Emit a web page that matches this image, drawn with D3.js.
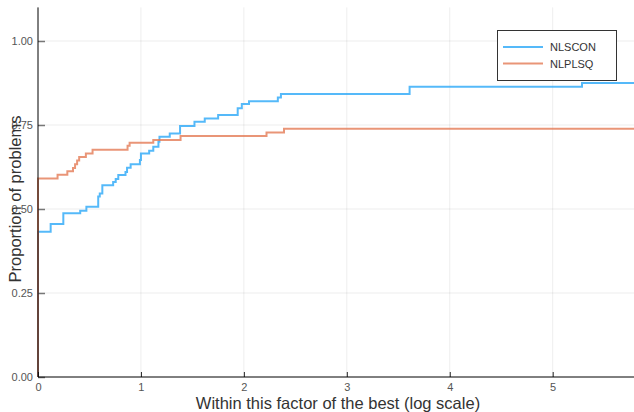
<!DOCTYPE html>
<html>
<head>
<meta charset="utf-8">
<script src="https://cdn.jsdelivr.net/npm/d3@7/dist/d3.min.js"></script>
<style>
  html, body { margin: 0; padding: 0; background: #fff; }
  svg { display: block; font-family: "Liberation Sans", "DejaVu Sans", sans-serif; }
</style>
</head>
<body>
<svg id="chart" width="634" height="412"></svg>
<script>
// Series names
const seriesNames = ["NLSCON", "NLPLSQ"];
// Step points: x (log factor) where proportion changes, and new proportion
const nlsconX = [0, 0, 0.123, 0.246, 0.41, 0.47, 0.585, 0.60, 0.625, 0.73, 0.755, 0.78, 0.85, 0.865, 0.90, 0.99, 1.00, 1.08, 1.12, 1.17, 1.18, 1.28, 1.38, 1.52, 1.62, 1.75, 1.94, 1.98, 2.05, 2.33, 2.36, 3.61, 5.285, 5.79];
const nlsconY = [0, 0.432, 0.455, 0.487, 0.495, 0.507, 0.537, 0.546, 0.571, 0.580, 0.589, 0.601, 0.610, 0.623, 0.633, 0.646, 0.665, 0.673, 0.685, 0.700, 0.715, 0.725, 0.747, 0.760, 0.769, 0.780, 0.800, 0.8125, 0.821, 0.832, 0.842, 0.864, 0.875, 0.875];
const nlplsqX = [0, 0, 0.19, 0.285, 0.34, 0.36, 0.38, 0.40, 0.465, 0.53, 0.87, 0.89, 1.12, 1.385, 2.22, 2.39, 5.79];
const nlplsqY = [0, 0.591, 0.602, 0.612, 0.622, 0.633, 0.644, 0.655, 0.665, 0.676, 0.688, 0.697, 0.705, 0.717, 0.728, 0.739, 0.739];
// Axis ticks
const xTicks = [0, 1, 2, 3, 4, 5];
const yTicks = [0, 0.25, 0.5, 0.75, 1.0];
const xTitle = "Within this factor of the best (log scale)";
const yTitle = "Proportion of problems";
const colors = ["#2aa7f7", "#e37a55"];

const svg = d3.select("#chart");
const mLeft = 38, mRight = 634, mTop = 7.4, mBottom = 377;
const x = d3.scaleLinear().domain([0, 5.79]).range([mLeft, mRight]);
const y = d3.scaleLinear().domain([0, 1.1]).range([mBottom, mTop]);

// grid
svg.append("g").selectAll("line").data(xTicks.slice(1)).join("line")
  .attr("x1", d => x(d)).attr("x2", d => x(d)).attr("y1", mTop).attr("y2", mBottom)
  .attr("stroke", "#000").attr("stroke-opacity", 0.07).attr("stroke-width", 1);
svg.append("g").selectAll("line").data(yTicks.slice(1)).join("line")
  .attr("x1", mLeft).attr("x2", mRight).attr("y1", d => y(d)).attr("y2", d => y(d))
  .attr("stroke", "#000").attr("stroke-opacity", 0.07).attr("stroke-width", 1);

// lines
const line = d3.line().x(d => x(d[0])).y(d => y(d[1])).curve(d3.curveStepAfter);
const series = [
  d3.zip(nlsconX, nlsconY),
  d3.zip(nlplsqX, nlplsqY)
];
series.forEach((s, i) => {
  svg.append("path").datum(s).attr("d", line)
    .attr("fill", "none").attr("stroke", colors[i]).attr("stroke-width", 2)
    .attr("stroke-opacity", 0.8);
});

// axes
const yAxis = d3.axisLeft(y).tickValues(yTicks).tickFormat(d3.format(".2f")).tickSizeInner(-7).tickSizeOuter(0).tickPadding(5);
const gy = svg.append("g").attr("transform", `translate(${mLeft},0)`).call(yAxis);
gy.select(".domain").remove();
gy.selectAll(".tick line").attr("stroke", "#777").attr("stroke-width", 1.5);
gy.selectAll(".tick text").attr("fill", "#555").attr("font-size", 11).attr("x", -5).attr("font-family", "Liberation Sans, sans-serif");

const xAxis = d3.axisBottom(x).tickValues(xTicks).tickFormat(d3.format("d")).tickSizeInner(-5).tickSizeOuter(0).tickPadding(4);
const gx = svg.append("g").attr("transform", `translate(0,${mBottom})`).call(xAxis);
gx.select(".domain").remove();
gx.selectAll(".tick line").attr("stroke", "#222").attr("stroke-width", 1);
gx.selectAll(".tick text").attr("fill", "#555").attr("font-size", 11).attr("y", 6).attr("font-family", "Liberation Sans, sans-serif");

// axis lines
svg.append("line").attr("x1", mLeft).attr("x2", mLeft).attr("y1", mTop).attr("y2", mBottom).attr("stroke", "#000").attr("stroke-width", 1);
svg.append("line").attr("x1", mLeft).attr("x2", mRight).attr("y1", mBottom).attr("y2", mBottom).attr("stroke", "#000").attr("stroke-width", 1);

// titles
svg.append("text").attr("x", 338).attr("y", 409).attr("text-anchor", "middle")
  .attr("font-size", 16.5).attr("fill", "#333").text(xTitle);
svg.append("text").attr("transform", "translate(21,199) rotate(-90)").attr("text-anchor", "middle")
  .attr("font-size", 16.5).attr("fill", "#333").text(yTitle);

// legend
const lg = svg.append("g");
lg.append("rect").attr("x", 497.5).attr("y", 30.5).attr("width", 119).attr("height", 50)
  .attr("fill", "#fff").attr("stroke", "#333").attr("stroke-width", 1);
seriesNames.forEach((n, i) => {
  const yy = 47 + i * 16.5;
  lg.append("line").attr("x1", 503).attr("x2", 543).attr("y1", yy).attr("y2", yy)
    .attr("stroke", colors[i]).attr("stroke-width", 2).attr("stroke-opacity", 0.8);
  lg.append("text").attr("x", 550).attr("y", yy + 4).attr("font-size", 11).attr("fill", "#333").text(n);
});
</script>
</body>
</html>
